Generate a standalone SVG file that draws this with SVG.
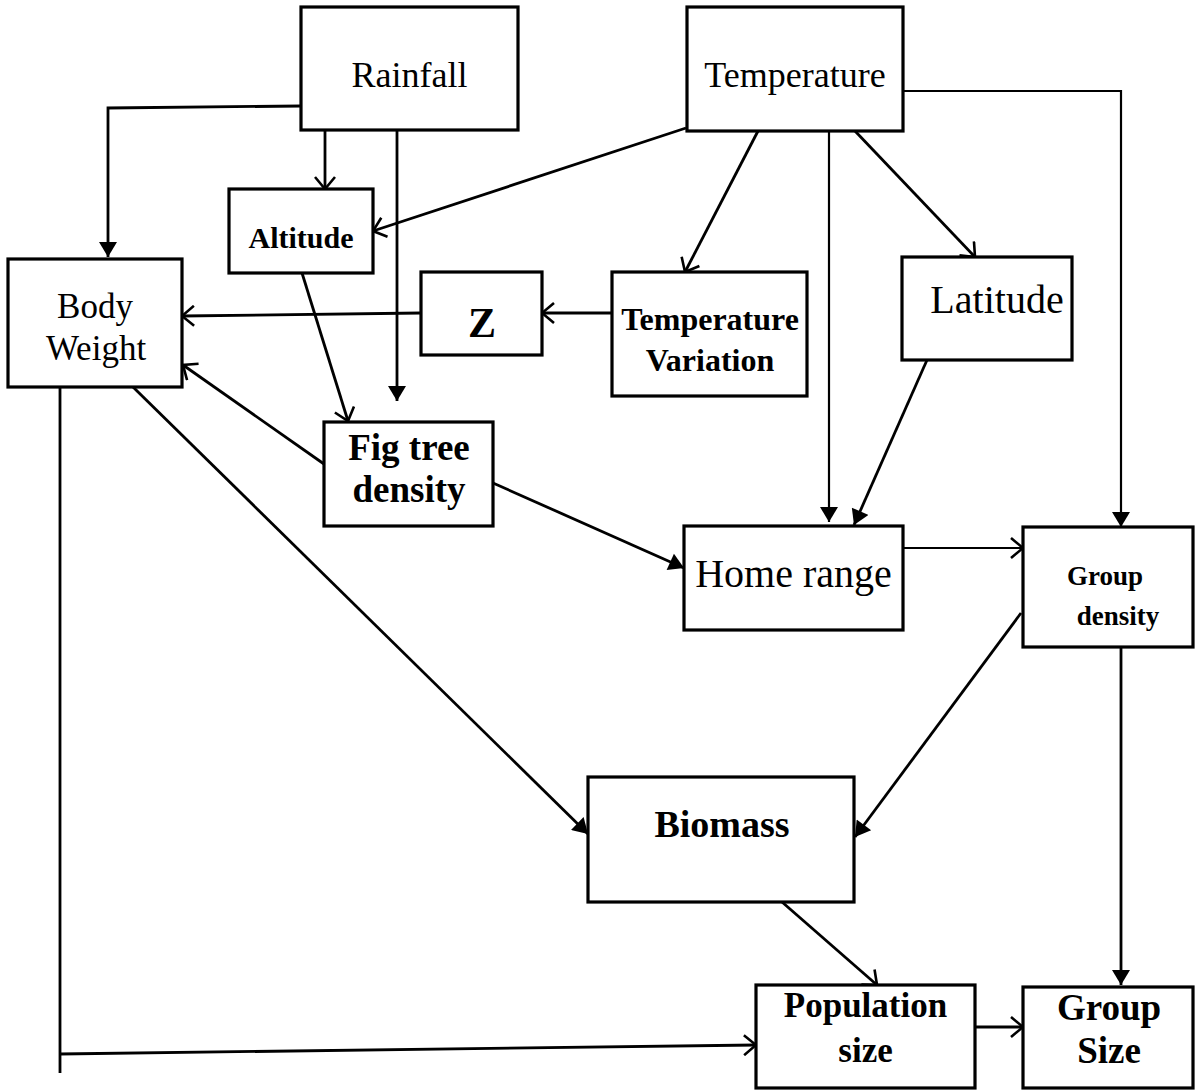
<svg xmlns="http://www.w3.org/2000/svg" width="1199" height="1091" viewBox="0 0 1199 1091">
  <style>
    .box { fill: #fff; stroke: #000; stroke-width: 3.2; }
    .lbl { font-family: "Liberation Serif", "Times New Roman", serif; fill: #000; text-anchor: middle; }
    .b { font-weight: bold; }
    .ln { fill: none; stroke: #000; stroke-width: 2.8; }
    .thin { stroke-width: 2.2; }
    .solid { marker-end: url(#head-solid); }
    .open { marker-end: url(#head-open); }
  </style>
  <defs>
    <marker id="head-solid" viewBox="0 0 16 18" refX="16" refY="9" markerWidth="16" markerHeight="18" markerUnits="userSpaceOnUse" orient="auto">
      <path d="M1,0 L16,9 L1,18 z" fill="#000"/>
    </marker>
    <marker id="head-open" viewBox="0 0 14 22" refX="13" refY="11" markerWidth="14" markerHeight="22" markerUnits="userSpaceOnUse" orient="auto">
      <path d="M1,1 L13,11 L1,21" fill="none" stroke="#000" stroke-width="2.6"/>
    </marker>
  </defs>
  <rect width="1199" height="1091" fill="#fff"/>

  <g id="connectors">
    <polyline class="ln solid" points="301,106 108,108 108,257"/>
    <line class="ln open" x1="325" y1="130" x2="325" y2="189"/>
    <line class="ln solid" x1="397" y1="130" x2="397" y2="401"/>
    <line class="ln open" x1="686" y1="128" x2="373" y2="231"/>
    <line class="ln open" x1="758" y1="131" x2="685" y2="272"/>
    <line class="ln thin solid" x1="829" y1="131" x2="829" y2="522"/>
    <line class="ln open" x1="855" y1="131" x2="975" y2="257"/>
    <polyline class="ln thin solid" points="903,91 1121,91 1121,527"/>
    <line class="ln open" x1="612" y1="313" x2="542" y2="313"/>
    <line class="ln open" x1="421" y1="313" x2="182" y2="316"/>
    <line class="ln open" x1="302" y1="273" x2="348" y2="421"/>
    <line class="ln open" x1="324" y1="464" x2="183" y2="365"/>
    <line class="ln solid" x1="493" y1="483" x2="684" y2="568"/>
    <line class="ln solid" x1="927" y1="360" x2="854" y2="525"/>
    <line class="ln thin open" x1="903" y1="548" x2="1023" y2="548"/>
    <line class="ln solid" x1="133" y1="387" x2="588" y2="834"/>
    <line class="ln solid" x1="1021" y1="613" x2="855" y2="837"/>
    <line class="ln solid" x1="1121" y1="647" x2="1121" y2="985"/>
    <line class="ln open" x1="782" y1="902" x2="877" y2="985"/>
    <line class="ln open" x1="975" y1="1027" x2="1023" y2="1027"/>
    <line class="ln" x1="60" y1="387" x2="60" y2="1073"/>
    <line class="ln open" x1="60" y1="1054" x2="756" y2="1045"/>
  </g>

  <g id="rainfall">
    <rect class="box" x="301" y="7" width="217" height="123"/>
    <text class="lbl" x="409.5" y="87" font-size="36">Rainfall</text>
  </g>
  <g id="temperature">
    <rect class="box" x="687" y="7" width="216" height="124"/>
    <text class="lbl" x="795" y="87" font-size="36">Temperature</text>
  </g>
  <g id="altitude">
    <rect class="box" x="229" y="189" width="144" height="84"/>
    <text class="lbl b" x="301" y="248" font-size="30">Altitude</text>
  </g>
  <g id="body-weight">
    <rect class="box" x="8" y="259" width="174" height="128"/>
    <text class="lbl" x="95" y="318" font-size="35">Body</text>
    <text class="lbl" x="96" y="360" font-size="35">Weight</text>
  </g>
  <g id="z">
    <rect class="box" x="421" y="272" width="121" height="83"/>
    <text class="lbl b" x="482" y="337" font-size="42">Z</text>
  </g>
  <g id="temperature-variation">
    <rect class="box" x="612" y="272" width="195" height="124"/>
    <text class="lbl b" x="710" y="330" font-size="32">Temperature</text>
    <text class="lbl b" x="710" y="371" font-size="32">Variation</text>
  </g>
  <g id="latitude">
    <rect class="box" x="902" y="257" width="170" height="103"/>
    <text class="lbl" x="997" y="313" font-size="40">Latitude</text>
  </g>
  <g id="fig-tree-density">
    <rect class="box" x="324" y="422" width="169" height="104"/>
    <text class="lbl b" x="409" y="460" font-size="37">Fig tree</text>
    <text class="lbl b" x="409" y="502" font-size="37">density</text>
  </g>
  <g id="home-range">
    <rect class="box" x="684" y="526" width="219" height="104"/>
    <text class="lbl" x="793.5" y="587" font-size="40">Home range</text>
  </g>
  <g id="group-density">
    <rect class="box" x="1023" y="527" width="170" height="120"/>
    <text class="lbl b" x="1105" y="585" font-size="27">Group</text>
    <text class="lbl b" x="1118" y="625" font-size="27">density</text>
  </g>
  <g id="biomass">
    <rect class="box" x="588" y="777" width="266" height="125"/>
    <text class="lbl b" x="722" y="837" font-size="38">Biomass</text>
  </g>
  <g id="population-size">
    <rect class="box" x="756" y="985" width="219" height="103"/>
    <text class="lbl b" x="865.5" y="1017" font-size="35">Population</text>
    <text class="lbl b" x="865.5" y="1062" font-size="35">size</text>
  </g>
  <g id="group-size">
    <rect class="box" x="1023" y="987" width="170" height="101"/>
    <text class="lbl b" x="1109" y="1020" font-size="37">Group</text>
    <text class="lbl b" x="1109" y="1063" font-size="37">Size</text>
  </g>
</svg>
